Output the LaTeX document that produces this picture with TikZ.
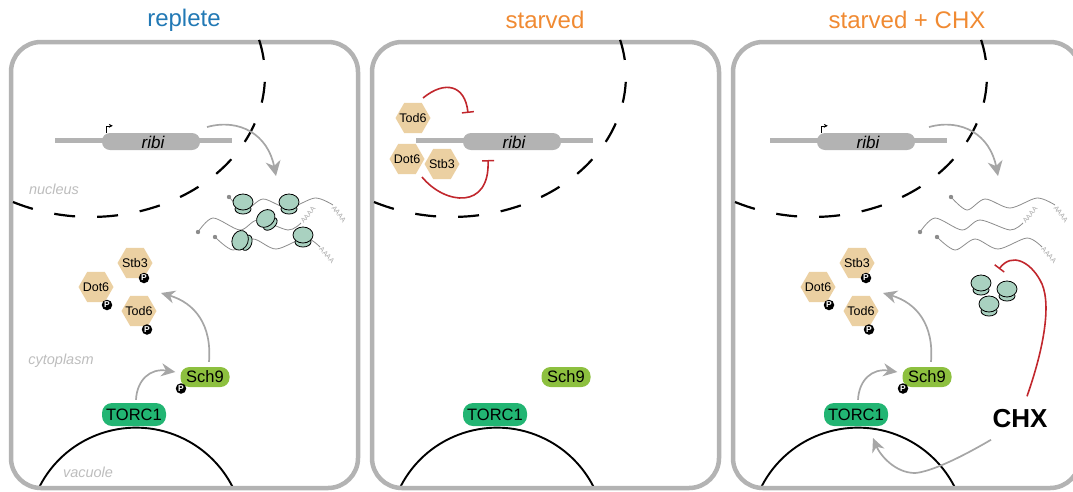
\documentclass[tikz,border=0pt]{standalone}
\usepackage{fontspec}
\setmainfont{Liberation Sans}
\usetikzlibrary{arrows.meta,calc,shapes.geometric}
\definecolor{membrane}{HTML}{B3B3B3}
\definecolor{flow}{HTML}{A6A6A6}
\definecolor{label}{HTML}{BDBDBD}
\definecolor{tfcol}{HTML}{EBD0A2}
\definecolor{ribocol}{HTML}{A9D1C0}
\definecolor{torccol}{HTML}{22B573}
\definecolor{schcol}{HTML}{8DC03F}
\definecolor{inhib}{HTML}{C1272D}
\definecolor{replete}{HTML}{2279B5}
\definecolor{starved}{HTML}{F08A32}
\newcommand{\fs}[1]{\fontsize{#1}{#1}\selectfont}
\newcommand{\tfname}[1]{\makebox[0pt]{#1}}
\tikzset{
  title/.style={font=\fs{24}},
  region/.style={font=\fs{14.5}\itshape,text=label},
  tf/.style={regular polygon,regular polygon sides=6,fill=tfcol,minimum size=35pt,inner sep=0pt,font=\fs{12.5}},
  phos/.style={circle,fill=black,text=white,minimum size=10.5pt,inner sep=0pt,font=\fs{8.5}\bfseries},
  torc/.style={fill=torccol,rounded corners=10pt,minimum width=64pt,minimum height=23pt,inner sep=0pt,font=\fs{16.5}},
  sch/.style={fill=schcol,rounded corners=9pt,minimum width=49pt,minimum height=20pt,inner sep=0pt,font=\fs{16.5}},
  gene/.style={fill=membrane,rounded corners=8pt,minimum width=98pt,minimum height=17pt,inner sep=0pt},
  polya/.style={font=\fs{7},text=flow,inner sep=0pt},
  flowline/.style={-{Stealth[length=14pt,width=13pt]},flow,line width=1.7pt},
  block/.style={-{Bar[width=12pt,line width=1.5pt]},inhib,line width=1.6pt},
  ribo/.pic={
    \draw[fill=ribocol,line width=.8pt] (0,5) ellipse[x radius=8,y radius=5];
    \draw[fill=ribocol,line width=.8pt] (0,-2) ellipse[x radius=10,y radius=8];
  },
  mrnas/.pic={
    \draw[black!45,line width=.8pt] plot[smooth] coordinates {(229,197) (245,210) (263,199) (288,208) (315,198) (333,205)};
    \draw[black!45,line width=.8pt] plot[smooth] coordinates {(198,232) (213,218) (240,230) (258,220) (288,230) (301,223)};
    \draw[black!45,line width=.8pt] plot[smooth] coordinates {(215,237) (233,250) (253,239) (276,249) (305,238) (320,247)};
    \fill[black!45] (229,197) circle (2.2) (198,232) circle (2.2) (215,237) circle (2.2);
    \node[polya,rotate=-52] at (339,214) {AAAA};
    \node[polya,rotate=50] at (308,215) {AAAA};
    \node[polya,rotate=-48] at (327,255) {AAAA};
  },
}
\begin{document}
\begin{tikzpicture}[x=1pt,y=-1pt,>=Stealth]
\clip (0,0) rectangle (1073,491);
\node[title,text=replete] (t1) at (184,20) {replete};
\node[title,text=starved] (t2) at (545,20) {starved};
\node[title,text=starved] (t3) at (907,20) {starved + CHX};

% the parts every cell has, the third gene sits a little to the left
\foreach \p/\dx/\gx in {a/0/0,b/361/0,c/722/-7}{
\begin{scope}[xshift=\dx pt]
\draw[black,line width=1.9pt] (39.3,487) arc[start angle=-153.1,end angle=-26.9,radius=108.4];
\draw[membrane,line width=4.5pt,rounded corners=30pt] (11,42) rectangle (358,488);
\draw[black,line width=2.2pt,dash pattern=on 21pt off 22pt] (13,202) arc[start angle=116.6,end angle=-14.8,x radius=174,y radius=141];
\begin{scope}[xshift=\gx pt]
\draw[membrane,line width=4.5pt] (55,140.5) -- (232,140.5);
\node[gene] (gene\p) at (151,141.5) {};
\node[font=\fs{17}\itshape] (ribi\p) at (153,142) {ribi};
\end{scope}
\node[torc] (torc\p) at (134,414.5) {TORC1};
\node[sch] (sch\p) at (205,377) {Sch9};
\end{scope}
}

% replete and starved + CHX share the active pathway
\foreach \p/\dx in {a/0,c/722}{
\begin{scope}[xshift=\dx pt]
\draw[-{Stealth[length=4pt,width=4pt]},line width=.6pt] (gene\p.north west) ++(4,0) |- ++(7,-7);
\draw[flowline,-{Stealth[length=15pt,width=15pt]}] (207,127) .. controls (240,118) and (268,135) .. (276,176);
\pic at (0,0) {mrnas};
\node[tf] (stb\p) at (135,263) {\tfname{Stb3}};
\node[tf] (dot\p) at (96,287) {\tfname{Dot6}};
\node[tf] (tod\p) at (139,311) {\tfname{Tod6}};
\node[phos] (pstb\p) at (144,278) {P};
\node[phos] (pdot\p) at (107,305) {P};
\node[phos] (ptod\p) at (147,329.5) {P};
\node[phos] (psch\p) at (181,388.5) {P};
\coordinate (tfs\p) at (161,293);
\draw[flowline] ($(torc\p.north)+(2,-3)$) .. controls (137,380) and (150,368) .. ($(sch\p.west)+(-5,-5)$);
\draw[flowline] ($(sch\p.north)+(4,-5)$) .. controls (212,325) and (195,303) .. (tfs\p);
\end{scope}
}

\node[region] (nuc) at (54,189) {nucleus};
\node[region] (cyt) at (61,361) {cytoplasm};
\node[region] (vac) at (88,472) {vacuole};

% translating ribosomes
\pic at (243,204) {ribo};
\pic at (289,204) {ribo};
\pic[rotate=40] at (267,220) {ribo};
\pic[rotate=70] at (242,241) {ribo};
\pic at (303,237) {ribo};

% starved: repressors bound at the promoter
\node[tf] (todb) at (413,118) {\tfname{Tod6}};
\node[tf] (dotb) at (407,159) {\tfname{Dot6}};
\node[tf] (stbb) at (442,164) {\tfname{Stb3}};
\coordinate (barup) at (468,113);
\coordinate (bardown) at (488,160);
\draw[block] (423,98) .. controls (445,80) and (465,85) .. (barup);
\draw[block] (422,177) .. controls (445,205) and (490,210) .. (bardown);

% CHX
\pic at (981,285) {ribo};
\pic at (1007,291) {ribo};
\pic at (989,306) {ribo};
\node[font=\fs{26}\bfseries] (chx) at (1020,419) {CHX};
\coordinate (freeribo) at (999,269);
\draw[block] ($(chx.north)+(7,-10)$) .. controls (1045,345) and (1052,300) .. (1040,280) .. controls (1030,262) and (1012,252) .. (freeribo);
\draw[flowline] ($(chx.south west)+(2,8)$) .. controls (960,458) and (930,472) .. (915,473) .. controls (895,473) and (880,455) .. (873,438);
\end{tikzpicture}
\end{document}
